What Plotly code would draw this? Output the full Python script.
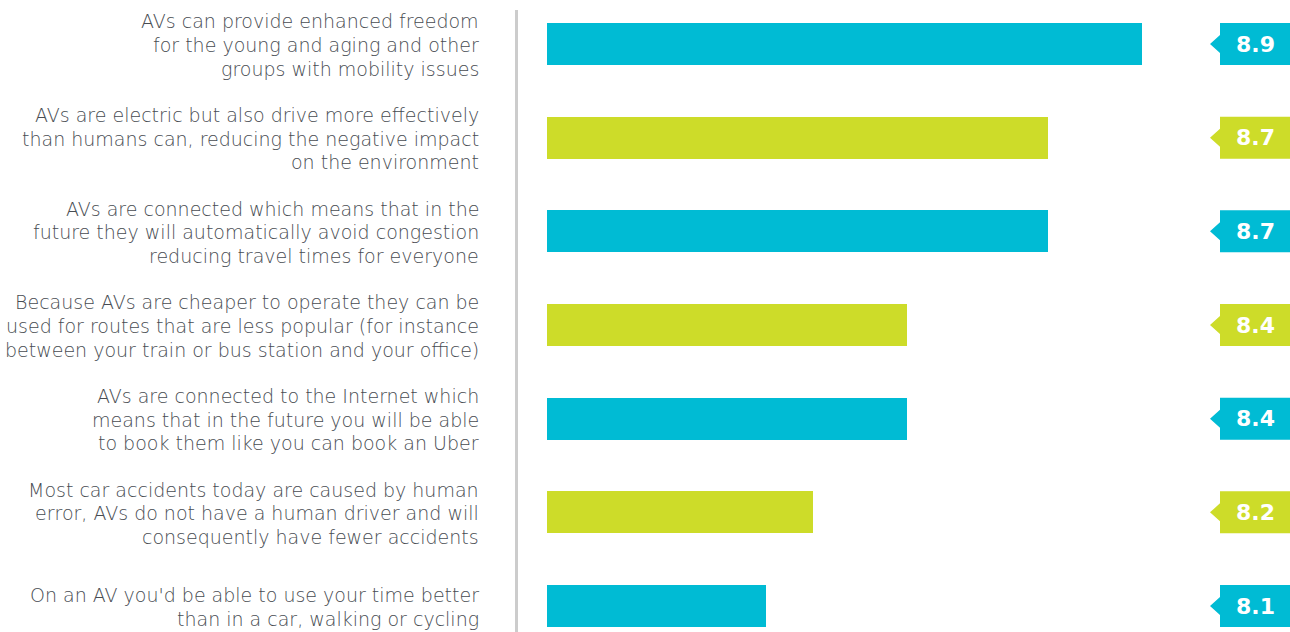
import plotly.graph_objects as go

# Survey statements (top to bottom) and their mean agreement scores
statements = [
    ["AVs can provide enhanced freedom", "for the young and aging and other", "groups with mobility issues"],
    ["AVs are electric but also drive more effectively", "than humans can, reducing the negative impact", "on the environment"],
    ["AVs are connected which means that in the", "future they will automatically avoid congestion", "reducing travel times for everyone"],
    ["Because AVs are cheaper to operate they can be", "used for routes that are less popular (for instance", "between your train or bus station and your office)"],
    ["AVs are connected to the Internet which", "means that in the future you will be able", "to book them like you can book an Uber"],
    ["Most car accidents today are caused by human", "error, AVs do not have a human driver and will", "consequently have fewer accidents"],
    ["On an AV you'd be able to use your time better", "than in a car, walking or cycling"],
]
scores = [8.9, 8.7, 8.7, 8.4, 8.4, 8.2, 8.1]
bar_colors = ["#00BBD4", "#CDDC29", "#00BBD4", "#CDDC29", "#00BBD4", "#CDDC29", "#00BBD4"]

W, H = 1290, 632
x_start = 7.634
px_per_unit = 470.0
plot_left = 547
x_end = x_start + (W - plot_left) / px_per_unit
row_px = 93.67
first_center = 44
y_min = -first_center / row_px
y_max = y_min + H / row_px
bar_px = 42
line_px = 23.8
text_shift_px = 1.0

ypos = list(range(len(scores)))

fig = go.Figure(
    go.Bar(
        x=[s - x_start for s in scores],
        base=x_start,
        y=ypos,
        orientation="h",
        width=bar_px / row_px,
        marker=dict(color=bar_colors, line=dict(width=0)),
        hoverinfo="skip",
    )
)

shapes = []
annotations = []
tag_left = 1220 / W
tag_tip = 1210 / W
half_h = (bar_px / 2) / row_px
arrow_h = 9 / row_px
label_font = dict(family="DejaVu Sans", size=19, color="#484c52", weight=200)
for i, (lines, val, col) in enumerate(zip(statements, scores, bar_colors)):
    n = len(lines)
    for k, line in enumerate(lines):
        annotations.append(dict(
            x=481 / W, xref="paper",
            y=i + ((k - (n - 1) / 2) * line_px + text_shift_px) / row_px, yref="y",
            text=line, xanchor="right", yanchor="middle", align="right",
            showarrow=False, font=label_font,
        ))
    # value tag: box with a small arrow pointing left
    shapes.append(dict(
        type="path", xref="paper", yref="y",
        path=(f"M {tag_left} {i - half_h} L 1 {i - half_h} L 1 {i + half_h} "
              f"L {tag_left} {i + half_h} L {tag_left} {i + arrow_h} "
              f"L {tag_tip} {i} L {tag_left} {i - arrow_h} Z"),
        fillcolor=col, line=dict(width=0), layer="above",
    ))
    annotations.append(dict(
        x=1255 / W, xref="paper", y=i, yref="y", text=f"<b>{val}</b>",
        xanchor="center", yanchor="middle", showarrow=False,
        font=dict(family="DejaVu Sans", size=22, color="white"),
    ))

# vertical divider between labels and bars
shapes.append(dict(
    type="line", xref="paper", yref="paper",
    x0=516.5 / W, x1=516.5 / W, y0=0, y1=1 - 10 / H,
    line=dict(color="#cccccc", width=3),
))

fig.update_layout(
    width=W, height=H,
    margin=dict(l=0, r=0, t=0, b=0),
    paper_bgcolor="white", plot_bgcolor="white",
    showlegend=False,
    bargap=0,
    xaxis=dict(domain=[plot_left / W, 1], range=[x_start, x_end],
               visible=False, fixedrange=True),
    yaxis=dict(range=[y_max, y_min], visible=False, fixedrange=True),
    shapes=shapes,
    annotations=annotations,
)

fig.write_html("out.html")
